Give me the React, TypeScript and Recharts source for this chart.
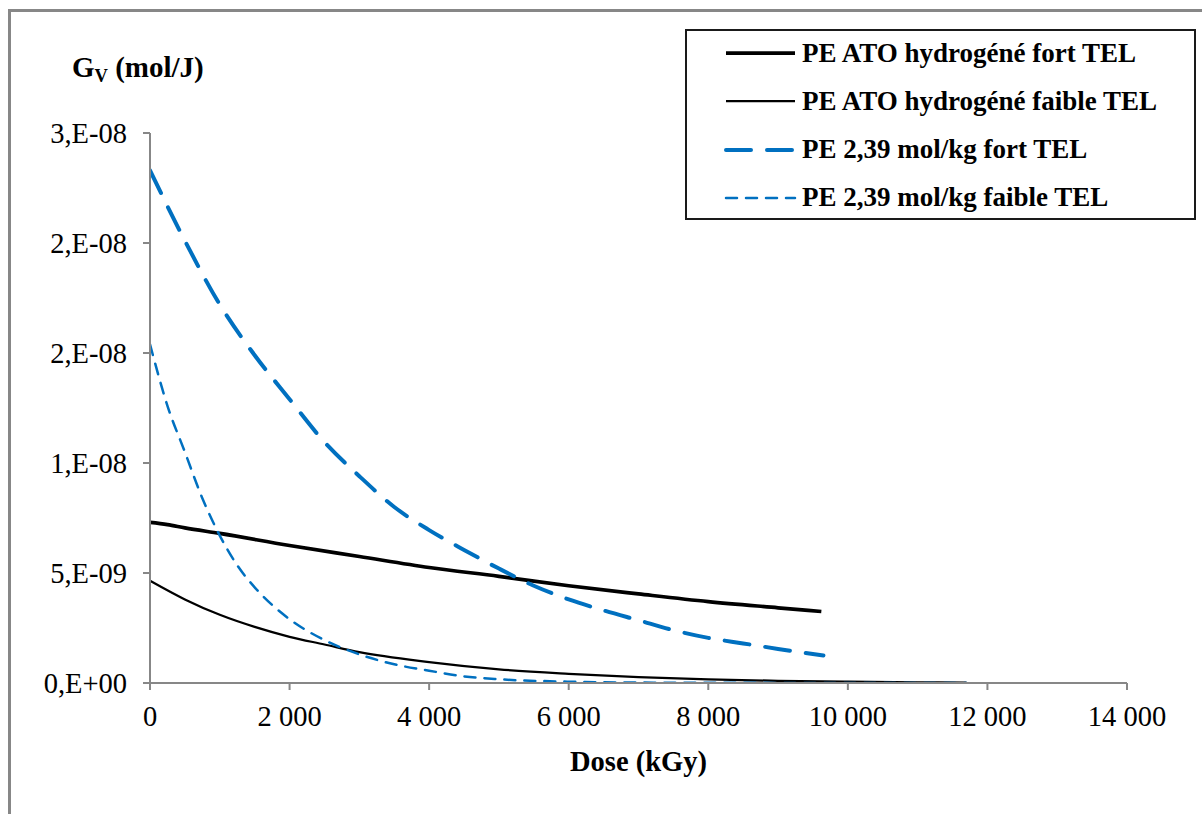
import React from 'react';
import { LineChart, Line, XAxis, YAxis, Legend } from 'recharts';

// ---- Data (Dose in kGy, G_V in mol/J) ----
const doseFortATO = [0, 250, 500, 1000, 2000, 3000, 4000, 5000, 6000, 7000, 8000, 9000, 9620];
const gvFortATO = [7.3e-9, 7.2e-9, 7.05e-9, 6.8e-9, 6.25e-9, 5.75e-9, 5.25e-9, 4.85e-9, 4.42e-9, 4.05e-9, 3.7e-9, 3.42e-9, 3.25e-9];

const doseFaibleATO = [0, 500, 1000, 1500, 2000, 2500, 3000, 4000, 5000, 6000, 7000, 8000, 9000, 10000, 11000, 11700];
const gvFaibleATO = [4.65e-9, 3.8e-9, 3.1e-9, 2.55e-9, 2.1e-9, 1.75e-9, 1.4e-9, 0.95e-9, 0.62e-9, 0.42e-9, 0.27e-9, 0.16e-9, 0.1e-9, 0.06e-9, 0.03e-9, 0.02e-9];

const doseFort239 = [0, 500, 1000, 1500, 2000, 2500, 3000, 3500, 4000, 4500, 5000, 5500, 6000, 6500, 7000, 7500, 8000, 8500, 9000, 9650];
const gvFort239 = [23.3e-9, 20.1e-9, 17.2e-9, 14.9e-9, 12.9e-9, 10.95e-9, 9.4e-9, 8.0e-9, 6.95e-9, 6.05e-9, 5.2e-9, 4.42e-9, 3.8e-9, 3.3e-9, 2.85e-9, 2.4e-9, 2.05e-9, 1.8e-9, 1.55e-9, 1.25e-9];

const doseFaible239 = [0, 250, 500, 750, 1000, 1250, 1500, 1750, 2000, 2500, 3000, 3500, 4000, 4500, 5000, 6000, 7000, 8000, 9000, 10000, 11700];
const gvFaible239 = [15.4e-9, 12.6e-9, 10.5e-9, 8.4e-9, 6.7e-9, 5.35e-9, 4.35e-9, 3.55e-9, 2.9e-9, 1.95e-9, 1.3e-9, 0.85e-9, 0.56e-9, 0.3e-9, 0.17e-9, 0.06e-9, 0.02e-9, 0.01e-9, 0.005e-9, 0.003e-9, 0.001e-9];

const seriesNames = [
  'PE ATO hydrogéné fort TEL',
  'PE ATO hydrogéné faible TEL',
  'PE 2,39 mol/kg fort TEL',
  'PE 2,39 mol/kg faible TEL',
];

const xTicks = [0, 2000, 4000, 6000, 8000, 10000, 12000, 14000];
const yTicks = [0, 5e-9, 1e-8, 1.5e-8, 2e-8, 2.5e-8];
const yTickLabels = ['0,E+00', '5,E-09', '1,E-08', '2,E-08', '2,E-08', '3,E-08'];

const toPoints = (xs: number[], ys: number[]) => xs.map((d, i) => ({ d, v: ys[i] }));
const dataFortATO = toPoints(doseFortATO, gvFortATO);
const dataFaibleATO = toPoints(doseFaibleATO, gvFaibleATO);
const dataFort239 = toPoints(doseFort239, gvFort239);
const dataFaible239 = toPoints(doseFaible239, gvFaible239);

const FONT = '"Liberation Serif", "Times New Roman", serif';
const AXIS_GRAY = '#878787';
const BLUE = '#0070C0';

const styles = [
  { color: '#000', width: 3.75, dash: undefined as string | undefined },
  { color: '#000', width: 2.25, dash: undefined as string | undefined },
  { color: BLUE, width: 4, dash: '25 16' },
  { color: BLUE, width: 2.5, dash: '11 9' },
];

const formatThousands = (n: number) => String(n).replace(/\B(?=(\d{3})+(?!\d))/g, '\u00A0');

const LegendBox = () => (
  <div
    style={{
      position: 'relative',
      boxSizing: 'border-box',
      width: 511,
      height: 191,
      border: '2px solid #1a1a1a',
      background: '#fff',
      fontFamily: FONT,
      fontWeight: 'bold',
      fontSize: 27,
      color: '#000',
    }}
  >
    {seriesNames.map((name, i) => (
      <div
        key={name}
        style={{
          position: 'absolute',
          left: 0,
          top: 22 + i * 48.3 - 15,
          height: 30,
          display: 'flex',
          alignItems: 'center',
          whiteSpace: 'nowrap',
        }}
      >
        <svg width={115} height={30} style={{ display: 'block' }}>
          <line
            x1={39}
            x2={108}
            y1={15}
            y2={15}
            stroke={styles[i].color}
            strokeWidth={styles[i].width}
            strokeDasharray={styles[i].dash}
            strokeLinecap={styles[i].dash ? 'round' : 'butt'}
          />
        </svg>
        <span>{name}</span>
      </div>
    ))}
  </div>
);

const YTitle = (props: any) => {
  const vb = props.viewBox || { x: 0, y: 133, width: 150 };
  return (
    <text x={72} y={vb.y - 56} fontFamily={FONT} fontWeight="bold" fontSize={29} fill="#000">
      <tspan>G</tspan>
      <tspan fontSize={18.5} dy={5}>V</tspan>
      <tspan dy={-5}> (mol/J)</tspan>
    </text>
  );
};

const XTitle = (props: any) => {
  const vb = props.viewBox || { x: 150, y: 683, width: 977 };
  return (
    <text
      x={vb.x + vb.width / 2}
      y={vb.y + 88}
      textAnchor="middle"
      fontFamily={FONT}
      fontWeight="bold"
      fontSize={28.5}
      fill="#000"
    >
      Dose (kGy)
    </text>
  );
};

export default function App() {
  return (
    <div style={{ position: 'absolute', left: 0, top: 0, width: 1202, height: 814, overflow: 'hidden', background: '#fff' }}>
      <div
        style={{
          position: 'absolute',
          left: 8,
          top: 9,
          width: 1202,
          height: 814,
          borderLeft: `3px solid ${AXIS_GRAY}`,
          borderTop: `3px solid ${AXIS_GRAY}`,
          boxSizing: 'border-box',
        }}
      />
      <div style={{ position: 'absolute', left: 0, top: 0 }}>
        <LineChart width={1202} height={814} margin={{ top: 133, right: 75, bottom: 0, left: 0 }}>
          <XAxis
            type="number"
            dataKey="d"
            domain={[0, 14000]}
            ticks={xTicks}
            allowDataOverflow
            height={131}
            tickSize={7}
            tickMargin={16}
            tickFormatter={formatThousands}
            axisLine={{ stroke: AXIS_GRAY, strokeWidth: 2 }}
            tickLine={{ stroke: AXIS_GRAY, strokeWidth: 2 }}
            tick={{ fontFamily: FONT, fontSize: 28.5, fill: '#000' }}
            label={{ content: XTitle }}
          />
          <YAxis
            type="number"
            domain={[0, 2.5e-8]}
            ticks={yTicks}
            allowDataOverflow
            width={150}
            tickSize={7}
            tickMargin={16}
            tickFormatter={(v: number) => {
              const idx = yTicks.findIndex((t) => Math.abs(t - v) < 1e-12);
              return idx >= 0 ? yTickLabels[idx] : '';
            }}
            axisLine={{ stroke: AXIS_GRAY, strokeWidth: 2 }}
            tickLine={{ stroke: AXIS_GRAY, strokeWidth: 2 }}
            tick={{ fontFamily: FONT, fontSize: 28.5, fill: '#000' }}
            label={{ content: YTitle }}
          />
          <Legend
            layout="vertical"
            align="center"
            verticalAlign="middle"
            content={() => <LegendBox />}
            wrapperStyle={{ position: 'absolute', left: 685, top: 29, width: 511, height: 191 }}
          />
          <Line
            data={dataFortATO}
            dataKey="v"
            name={seriesNames[0]}
            type="monotone"
            stroke={styles[0].color}
            strokeWidth={styles[0].width}
            dot={false}
            activeDot={false}
            isAnimationActive={false}
          />
          <Line
            data={dataFaibleATO}
            dataKey="v"
            name={seriesNames[1]}
            type="monotone"
            stroke={styles[1].color}
            strokeWidth={styles[1].width}
            dot={false}
            activeDot={false}
            isAnimationActive={false}
          />
          <Line
            data={dataFort239}
            dataKey="v"
            name={seriesNames[2]}
            type="monotone"
            stroke={styles[2].color}
            strokeWidth={styles[2].width}
            strokeDasharray={styles[2].dash}
            strokeLinecap="round"
            dot={false}
            activeDot={false}
            isAnimationActive={false}
          />
          <Line
            data={dataFaible239}
            dataKey="v"
            name={seriesNames[3]}
            type="monotone"
            stroke={styles[3].color}
            strokeWidth={styles[3].width}
            strokeDasharray={styles[3].dash}
            strokeLinecap="round"
            dot={false}
            activeDot={false}
            isAnimationActive={false}
          />
        </LineChart>
      </div>
    </div>
  );
}
